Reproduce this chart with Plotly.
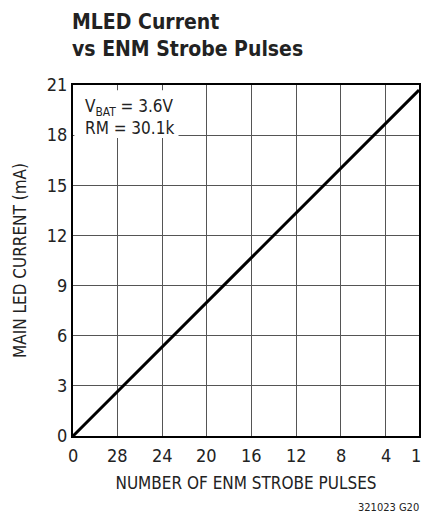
import plotly.graph_objects as go

# Data
pulses = [32, 28, 24, 20, 16, 12, 8, 4, 1]
current_ma = [0, 2.67, 5.34, 8.01, 10.68, 13.35, 16.03, 18.7, 20.7]
x_tick_vals = [32, 28, 24, 20, 16, 12, 8, 4, 1]
x_tick_text = ["0", "28", "24", "20", "16", "12", "8", "4", "1"]
y_tick_vals = [0, 3, 6, 9, 12, 15, 18, 21]

FONT = "DejaVu Sans Condensed, Liberation Sans Narrow, Roboto, Arial, sans-serif"

fig = go.Figure()
fig.add_trace(go.Scatter(x=pulses, y=current_ma, mode="lines",
                         line=dict(color="black", width=3), showlegend=False))

fig.update_layout(
    width=414, height=505,
    margin=dict(l=65, r=3, t=77, b=77, autoexpand=False),
    paper_bgcolor="white", plot_bgcolor="white",
    font=dict(family=FONT, size=17, color="#222"),
    xaxis=dict(range=[32, 1], tickvals=x_tick_vals, showticklabels=False,
               showgrid=True, gridcolor="#555", gridwidth=1,
               showline=True, linecolor="black", linewidth=2, mirror=True,
               ticks="", zeroline=False, automargin=False,
               title=dict(text="NUMBER OF ENM STROBE PULSES", font=dict(size=17), standoff=40)),
    yaxis=dict(range=[0, 21], tickvals=y_tick_vals,
               showgrid=True, gridcolor="#555", gridwidth=1,
               showline=True, linecolor="black", linewidth=2, mirror=True,
               ticks="", zeroline=False, tickfont=dict(size=18), automargin=False,
               ticklabeloverflow="allow",
               title=dict(text="MAIN LED CURRENT (mA)", font=dict(size=17), standoff=16)),
)

# x tick labels drawn as annotations at the tick values
for i, (v, t) in enumerate(zip(x_tick_vals, x_tick_text)):
    last = i == len(x_tick_vals) - 1
    fig.add_annotation(xref="x", yref="paper", x=v, y=0, yshift=-19,
                       xanchor="right" if last else "center", xshift=4 if last else 0,
                       yanchor="middle", showarrow=False, text=t,
                       font=dict(size=18, color="#222"))

fig.add_shape(type="rect", xref="x domain", yref="y domain",
              x0=0.004, x1=0.305, y0=0.849, y1=0.985,
              fillcolor="white", line=dict(width=0), layer="above")

fig.add_annotation(xref="x domain", yref="y domain", x=0.03, y=0.975,
                   xanchor="left", yanchor="top", align="left", showarrow=False,
                   text="V<sub>BAT</sub> = 3.6V<br>RM = 30.1k",
                   font=dict(size=17, color="#222"))

fig.add_annotation(xref="paper", yref="paper", x=-0.01, y=1.0, yshift=77,
                   xanchor="left", yanchor="top", align="left", showarrow=False,
                   text="<b>MLED Current<br>vs ENM Strobe Pulses</b>",
                   font=dict(size=21, color="#222"))

fig.add_annotation(xref="paper", yref="paper", x=1.0, y=0, yshift=-71, xshift=2,
                   xanchor="right", yanchor="middle", showarrow=False,
                   text="321023 G20", font=dict(size=11, color="#222"))

fig.write_html("out.html")
